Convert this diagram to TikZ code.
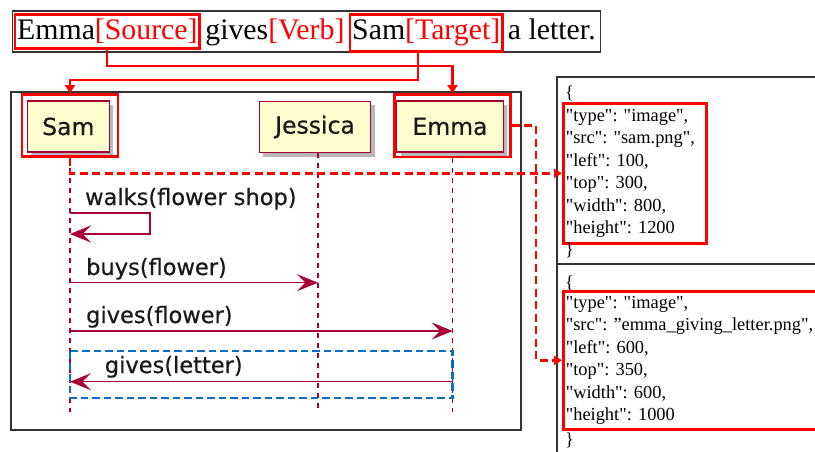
\documentclass[tikz,border=0pt]{standalone}
\usepackage{fontspec}
\setmainfont{Liberation Serif}
\newfontfamily\jsonfont{Liberation Serif}[Ligatures=TeXOff]
\newfontfamily\seqfont{DejaVu Sans}[FakeBold=0.5]
\usetikzlibrary{arrows.meta,fit,shadows,calc}
\definecolor{umlred}{HTML}{A80036}
\definecolor{umlbeige}{HTML}{FEFECE}
\definecolor{hlred}{HTML}{FF0000}
\definecolor{hlblue}{HTML}{0A6FC2}
\definecolor{framegray}{HTML}{333333}
\begin{document}
\begin{tikzpicture}[x=1pt,y=-1pt,
  pbox/.style={draw=umlred, fill=umlbeige, line width=1.3pt, minimum height=51pt, inner sep=0pt,
    font=\seqfont\fontsize{23.5}{28}\selectfont, text=black!90,
    drop shadow={shadow xshift=4pt, shadow yshift=-4pt, fill=black, opacity=0.28}},
  hlbox/.style={draw=hlred, line width=2.8pt, inner sep=0pt},
  lifeline/.style={draw=umlred, line width=1.3pt, dash pattern=on 5pt off 5pt},
  msg/.style={draw=umlred, line width=1.3pt, -{Stealth[length=21pt,width=17pt,inset=8.5pt]}},
  msglabel/.style={anchor=base west, inner sep=0pt, font=\seqfont\fontsize{22.5}{27}\selectfont, text=black!90},
  hldash/.style={draw=hlred, line width=2.6pt, dash pattern=on 8pt off 4.5pt, -{Triangle[length=8pt,width=9pt]}},
  hlarrow/.style={draw=hlred, line width=2.6pt, -{Triangle[length=8pt,width=10pt]}},
  bluedash/.style={draw=hlblue, line width=2.6pt, dash pattern=on 7.5pt off 4pt},
  senttext/.style={anchor=base west, inner sep=0pt, font=\fontsize{29.8}{34}\selectfont},
  jsontext/.style={font=\jsonfont\frenchspacing\fontsize{18.4}{22.4}\selectfont},
  jsonbody/.style={draw=hlred, line width=2.6pt, font=\jsonfont\frenchspacing\fontsize{18.4}{22.4}\selectfont, align=left, inner xsep=2.5pt, inner ysep=0pt},
  panel/.style={draw=framegray, line width=1.2pt},
]
\useasboundingbox (0,0) rectangle (815,452);
\fill[white] (0,0) rectangle (815,452);

% ---------- sentence ----------
\node[senttext] (n1) at (17,40) {Emma\textcolor{hlred}{[Source]}};
\node[senttext] (n2) at ([xshift=7.4pt]n1.base east) {gives\textcolor{hlred}{[Verb]}};
\node[senttext] (n3) at ([xshift=7.4pt]n2.base east) {Sam\textcolor{hlred}{[Target]}};
\node[senttext] (n4) at ([xshift=7.4pt]n3.base east) {a letter.};
\node[draw=framegray, line width=1.4pt, fit=(n1)(n4), inner xsep=4.5pt, inner ysep=8pt] (sent) {};
\node[hlbox, fit=(n1), inner xsep=2pt, inner ysep=4.5pt] (srcbox) {};
\node[hlbox, fit=(n3), inner xsep=2pt, inner ysep=4.5pt] (tgtbox) {};

% ---------- sequence frame ----------
\draw[panel, line width=1.4pt] (11,92) rectangle (521,430);

% participants
\node[pbox, minimum width=82pt] (sam) at (68.3,126.5) {Sam};
\node[pbox, minimum width=111.4pt] (jes) at (315,127) {Jessica};
\node[pbox, minimum width=106.6pt] (emma) at (450,126.5) {Emma};
\node[hlbox, fit={(22,94.5)(118,156.5)}] (samhl) {};
\node[hlbox, fit={(394.7,94.5)(510.3,157)}] (emmahl) {};

% lifelines
\coordinate (samL) at (70,0);
\coordinate (jesL) at (318,0);
\coordinate (emmaL) at (452.7,0);
\coordinate (lend) at (0,412);
\draw[lifeline] (samL |- samhl.south) -- (samL |- lend);
\draw[lifeline] (jesL |- jes.south) -- (jesL |- lend);
\draw[lifeline] (emmaL |- emmahl.south) -- (emmaL |- lend);

% messages
\coordinate (y1) at (150,213);
\coordinate (y1b) at (150,234);
\coordinate (y2) at (0,282.7);
\coordinate (y3) at (0,331);
\coordinate (y4) at (0,381.7);
\node[msglabel] (l1) at (85,205) {walks(flower shop)};
\draw[msg] (samL |- y1) -- (y1) -- (y1b) -- (samL |- y1b);
\node[msglabel] (l2) at (86,275) {buys(flower)};
\draw[msg] (samL |- y2) -- (jesL |- y2);
\node[msglabel] (l3) at (86,323) {gives(flower)};
\draw[msg] (samL |- y3) -- (emmaL |- y3);
\node[msglabel] (l4) at (104.7,373) {gives(letter)};
\draw[msg] (emmaL |- y4) -- (samL |- y4);
\coordinate (b1) at (0,351);
\coordinate (b2) at (0,398);
\draw[bluedash] (samL |- b1) rectangle (emmaL |- b2);

% sentence -> participants
\coordinate (srcx) at (107,66);
\coordinate (tgtx) at (418,80);
\draw[hlarrow] (srcbox.south -| srcx) -- (srcx) -| (emmahl.north);
\draw[hlarrow] (tgtbox.south -| tgtx) -- (tgtx) -| (samhl.north);

% ---------- JSON panel ----------
\draw[panel] (557,460) -- (557,77) -- (830,77);
\draw[panel] (557,264) -- (830,264);

\node[jsontext, anchor=west, inner sep=0pt] (ob1) at (565,93) {\{};
\node[jsonbody, minimum height=140pt, text width=138pt, anchor=north west] (body1) at (562,102)
  {"type": "image",\\ "src": "sam.png",\\ "left": 100,\\ "top": 300,\\ "width": 800,\\ "height": 1200};
\node[jsontext, anchor=west, inner sep=0pt] (cb1) at (565,250) {\}};

\node[jsontext, anchor=west, inner sep=0pt] (ob2) at (565,283) {\{};
\node[jsonbody, minimum height=138pt, text width=262pt, anchor=north west] (body2) at (562,290)
  {"type": "image",\\ "src": ”emma\_giving\_letter.png",\\ "left": 600,\\ "top": 350,\\ "width": 600,\\ "height": 1000};
\node[jsontext, anchor=west, inner sep=0pt] (cb2) at (565,440) {\}};

% sequence -> JSON
\coordinate (jx) at (536,0);
\draw[hldash] (samhl.south) |- (body1.west);
\draw[hldash] (emmahl.east) -- (emmahl.east -| jx) -- (jx |- body2.west) -- (body2.west);
\end{tikzpicture}
\end{document}
